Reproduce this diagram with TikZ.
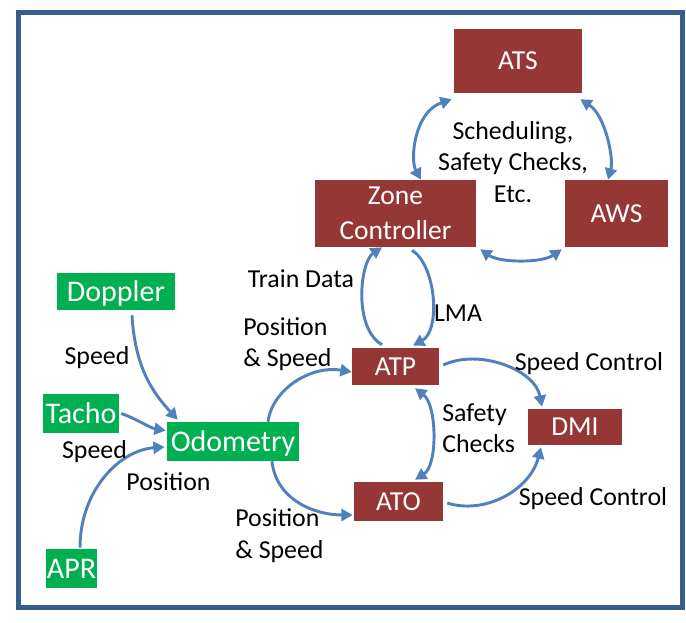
\documentclass[tikz,border=0pt]{standalone}
\usepackage{fontspec}
\setmainfont{Carlito}
\usetikzlibrary{arrows.meta}
\definecolor{boxred}{RGB}{149,55,53}
\definecolor{boxgreen}{RGB}{0,176,80}
\definecolor{arrowblue}{RGB}{79,129,189}
\definecolor{framecol}{RGB}{56,93,138}
\begin{document}
\begin{tikzpicture}[x=0.75pt,y=-0.75pt,
  wh/.style 2 args={minimum width=#1*0.75pt, minimum height=#2*0.75pt},
  redbox/.style={fill=boxred, draw=none, text=white, inner sep=0pt, font=\fontsize{20.6}{26}\selectfont},
  greenbox/.style={fill=boxgreen, draw=none, text=white, inner sep=0pt, font=\fontsize{22.5}{26}\selectfont},
  redone/.style={redbox, text height=13.3pt, text depth=0pt},
  greenone/.style={greenbox, text height=14.5pt, text depth=0pt},
  lbl/.style={inner sep=0pt, text=black, font=\fontsize{19.4}{23.6}\selectfont},
  lblone/.style={lbl, text height=12.5pt, text depth=0pt},
  tip/.tip={Triangle[length=8.5pt,width=9pt]},
  conn/.style={draw=arrowblue, line width=2.2pt, -tip},
  biconn/.style={draw=arrowblue, line width=2.2pt, tip-tip}]
\useasboundingbox (0,0) rectangle (686,623);
\draw[framecol, line width=3.75pt] (18,13) rectangle (682,608);

% nodes
\node[redone,wh={128}{64}] (ATS) at (518,61) {ATS};
\node[redbox,wh={161}{67},align=center] (ZC) at (395.5,213.5) {Zone\\Controller};
\node[redone,wh={103}{67}] (AWS) at (616.5,213.5) {AWS};
\node[greenone,wh={118}{37}] (Doppler) at (116,291.5) {Doppler};
\node[greenone,wh={76}{39}] (Tacho) at (81,413.5) {Tacho};
\node[greenone,wh={132}{39}] (Odo) at (233,441.5) {Odometry};
\node[greenone,wh={51}{39}] (APR) at (71.5,568.5) {APR};
\node[redone,wh={87}{37}] (ATP) at (395.5,366.5) {ATP};
\node[redone,wh={94}{36}] (DMI) at (575,427) {DMI};
\node[redone,wh={89}{39}] (ATO) at (398.5,501.5) {ATO};

% connectors
\draw[biconn] ([shift={(-2,6)}]ATS.south west) .. controls (414,112) and (410,160) .. ([shift={(25.5,0)}]ZC.north);
\draw[biconn] ([shift={(-2,6)}]ATS.south east) .. controls (605,115) and (614,158) .. ([shift={(-8.5,0)}]AWS.north);
\draw[biconn] ([shift={(4,2)}]ZC.south east) .. controls (500,263) and (542,263) .. ([shift={(-3,2)}]AWS.south west);
\draw[conn] ([shift={(-13.5,-3)}]ATP.north) .. controls (353,328) and (360,262) .. ([shift={(-13.5,0)}]ZC.south);
\draw[conn] ([shift={(16.5,3)}]ZC.south) .. controls (436,265) and (441,330) .. ([shift={(17.5,-2)}]ATP.north);
\draw[conn] ([shift={(35,0)}]Odo.north) .. controls (272,390) and (310,365) .. ([shift={(0,5.5)}]ATP.west);
\draw[conn] ([shift={(39,0)}]Odo.south) .. controls (276,500) and (315,515) .. ([shift={(-1,13.5)}]ATO.west);
\draw[conn] ([shift={(4,-1.5)}]ATP.east) .. controls (480,348) and (535,370) .. ([shift={(-33,-2)}]DMI.north);
\draw[conn] ([shift={(4,1.5)}]ATO.east) .. controls (485,515) and (530,490) .. ([shift={(-34,2)}]DMI.south);
\draw[biconn] ([shift={(19.5,3)}]ATP.south) .. controls (437,405) and (438,465) .. ([shift={(16.5,-2)}]ATO.north);
\draw[conn] ([shift={(16,5)}]Doppler.south) .. controls (135,370) and (155,395) .. ([shift={(11,-2)}]Odo.north west);
\draw[conn] ([shift={(2,0)}]Tacho.east) .. controls (135,418) and (150,428) .. ([shift={(-1,-11)}]Odo.west);
\draw[conn] ([shift={(8.5,-1)}]APR.north) .. controls (80,490) and (120,450) .. ([shift={(-2,5.5)}]Odo.west);

% labels
\node[lbl,align=center] (sched) at (513,162) {Scheduling,\\Safety Checks,\\Etc.};
\node[lblone] (td) at (301,279) {Train Data};
\node[lblone] (lma) at (458,313) {LMA};
\node[lbl,align=left,anchor=west] (ps1) at (243,344) {Position\\\& Speed};
\node[lblone] (sp1) at (97,356) {Speed};
\node[lblone] (sp2) at (94.5,450) {Speed};
\node[lblone] (pos) at (168.5,482) {Position};
\node[lbl,align=left,anchor=west] (ps2) at (235,535.5) {Position\\\& Speed};
\node[lblone] (sc1) at (589,362) {Speed Control};
\node[lblone] (sc2) at (593,497) {Speed Control};
\node[lbl,align=left,anchor=west] (safe) at (442,428) {Safety\\Checks};
\end{tikzpicture}
\end{document}
